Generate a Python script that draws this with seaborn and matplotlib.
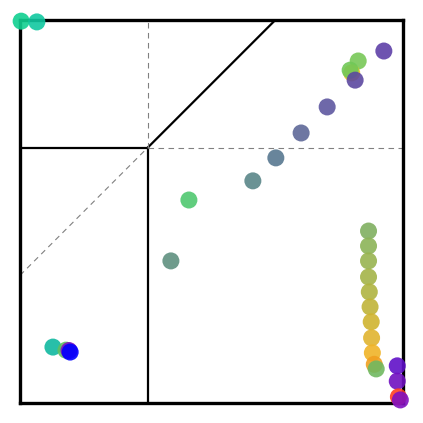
import matplotlib
matplotlib.use("Agg")
import matplotlib.pyplot as plt
import seaborn as sns
import pandas as pd

# point positions in data units (0..1 square)
px = [0.003, 0.044,
      0.950, 0.883, 0.866, 0.862, 0.875, 0.802, 0.734, 0.668, 0.608,
      0.441, 0.394,
      0.086, 0.120, 0.128, 0.131,
      0.910, 0.910, 0.910, 0.910, 0.912, 0.914, 0.917, 0.918, 0.920,
      0.925, 0.930,
      0.985, 0.985, 0.988, 0.993]
py = [0.997, 0.995,
      0.919, 0.893, 0.862, 0.869, 0.843, 0.773, 0.705, 0.640, 0.580,
      0.530, 0.371,
      0.146, 0.138, 0.137, 0.133,
      0.449, 0.410, 0.371, 0.329, 0.290, 0.251, 0.212, 0.170, 0.131,
      0.101, 0.089,
      0.097, 0.057, 0.016, 0.008]
pcol = ["#10d090", "#10c8a0",
        "#5e40a8", "#78c858", "#f0c020", "#70c858", "#5c48a0", "#5e58a0", "#5e6898", "#587890", "#5a8688",
        "#50c870", "#5f9080",
        "#10b8a0", "#60c060", "#8010c0", "#0000ff",
        "#80b060", "#8cb458", "#98b450", "#a4b448", "#b0b440", "#c0b438", "#d0b430", "#e0b430", "#f0b428",
        "#f0a020", "#70b860",
        "#6010c8", "#7010c0", "#ff4020", "#8010c0"]

df = pd.DataFrame({"x": px, "y": py, "id": [str(i) for i in range(len(px))]})

fig = plt.figure(figsize=(4.23, 4.23), dpi=100)
ax = fig.add_axes([20/423, 20/423, 383/423, 383/423])
sns.scatterplot(data=df, x="x", y="y", hue="id", palette=pcol, s=150,
                edgecolor="none", alpha=0.9, legend=False, ax=ax, clip_on=False, zorder=5)

t1, t2 = 1/3, 2/3
# solid lines
ax.plot([t1, t1], [0, t2], color="black", lw=1.6)
ax.plot([0, t1], [t2, t2], color="black", lw=1.6)
ax.plot([t1, t2], [t2, 1], color="black", lw=1.6)
# dashed lines
ax.plot([t1, t1], [t2, 1], color="gray", lw=0.8, ls=(0, (5, 4)))
ax.plot([t1, 1], [t2, t2], color="gray", lw=0.8, ls=(0, (5, 4)))
ax.plot([0, t1], [t1, t2], color="gray", lw=0.8, ls=(0, (5, 4)))

ax.set_xlim(0, 1)
ax.set_ylim(0, 1)
ax.set_xticks([])
ax.set_yticks([])
ax.set_xlabel("")
ax.set_ylabel("")
for sp in ax.spines.values():
    sp.set_linewidth(2.4)
    sp.set_color("black")
fig.savefig("out.png", dpi=100)
